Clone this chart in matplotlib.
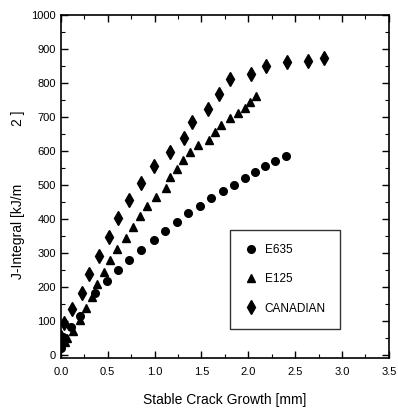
import matplotlib
matplotlib.use("Agg")
import matplotlib.pyplot as plt
from matplotlib.ticker import MultipleLocator

plt.rcParams["font.family"] = ["Liberation Sans", "DejaVu Sans"]

# E635 (circles)
e635_x = [0.0, 0.02, 0.11, 0.20, 0.36, 0.49, 0.61, 0.73, 0.86, 0.99, 1.11, 1.24,
          1.36, 1.48, 1.60, 1.73, 1.85, 1.96, 2.07, 2.18, 2.29, 2.40]
e635_y = [22, 55, 85, 115, 183, 218, 250, 280, 311, 338, 365, 392,
          417, 440, 462, 482, 500, 520, 538, 555, 570, 585]

# E125 (triangles)
e125_x = [0.04, 0.07, 0.13, 0.20, 0.27, 0.33, 0.39, 0.46, 0.52, 0.60, 0.70, 0.77,
          0.84, 0.92, 1.02, 1.12, 1.16, 1.24, 1.30, 1.38, 1.46, 1.58, 1.65, 1.71,
          1.80, 1.89, 1.97, 2.02, 2.08]
e125_y = [40, 50, 72, 105, 140, 172, 210, 244, 280, 314, 346, 377,
          410, 440, 465, 492, 523, 547, 575, 598, 618, 632, 655, 677,
          698, 711, 726, 745, 763]

# CANADIAN (diamonds)
can_x = [0.0, 0.03, 0.12, 0.22, 0.30, 0.41, 0.51, 0.61, 0.73, 0.86, 0.99, 1.16,
         1.31, 1.40, 1.57, 1.69, 1.81, 2.03, 2.19, 2.41, 2.64, 2.81]
can_y = [55, 95, 137, 183, 238, 293, 348, 403, 457, 507, 556, 598,
         639, 686, 725, 768, 811, 828, 851, 863, 865, 874]

fig = plt.figure(figsize=(3.98, 4.16), dpi=100)
ax = fig.add_axes([0.153, 0.139, 0.824, 0.825])

ax.plot(e635_x, e635_y, "o", color="black", markersize=5.5, label="E635")
ax.plot(e125_x, e125_y, "^", color="black", markersize=5.5, label="E125")
ax.plot(can_x, can_y, "d", color="black", markersize=7, label="CANADIAN")

ax.set_xlim(0, 3.5)
ax.set_ylim(-8, 1000)
ax.xaxis.set_major_locator(MultipleLocator(0.5))
ax.xaxis.set_minor_locator(MultipleLocator(0.25))
ax.yaxis.set_major_locator(MultipleLocator(100))
ax.yaxis.set_minor_locator(MultipleLocator(50))
ax.tick_params(which="both", direction="in", top=True, right=True, labelsize=8)
ax.tick_params(which="major", length=5, width=1)
ax.tick_params(which="minor", length=3, width=0.8)
ax.tick_params(axis="x", pad=6)
for sp in ax.spines.values():
    sp.set_linewidth(1.2)

ax.set_xlabel("Stable Crack Growth [mm]", fontsize=10, labelpad=12)

fig.text(0.045, 0.445, "J-Integral [kJ/m", rotation=90, fontsize=10,
         ha="center", va="center")
fig.text(0.045, 0.715, "2 ]", rotation=90, fontsize=10,
         ha="center", va="center")

leg = ax.legend(loc="upper left", bbox_to_anchor=(0.517, 0.373), fontsize=8.5,
                frameon=True, fancybox=False, edgecolor="black",
                borderpad=1.2, labelspacing=1.45, handletextpad=0.7,
                handlelength=1.0, borderaxespad=0)
leg.get_frame().set_linewidth(1.0)

fig.savefig("out.png", dpi=100)
